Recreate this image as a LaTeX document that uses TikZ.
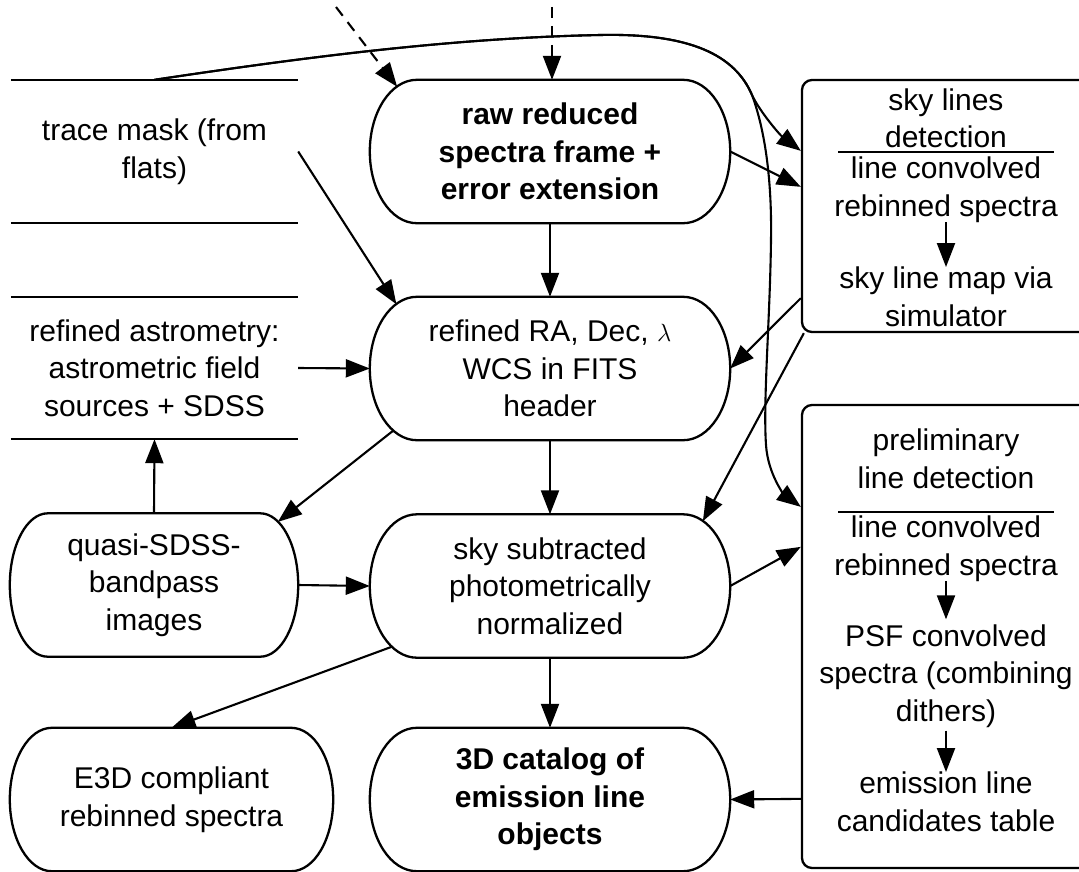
\documentclass[tikz,border=0pt]{standalone}
\usepackage{fontspec}
\setmainfont{Liberation Sans}
\usetikzlibrary{arrows.meta,calc}
\newcommand\stadiumoutline[2]{%
  \draw[outline] let \p1=(#1.north west), \p2=(#1.south east), \n1={(\y1-\y2)/2} in
  (\x1+#2pt,\y1) -- (\x2-#2pt,\y1)
  arc[start angle=90,end angle=-90,x radius=#2pt,y radius=\n1]
  -- (\x1+#2pt,\y2)
  arc[start angle=270,end angle=90,x radius=#2pt,y radius=\n1] -- cycle;}
\begin{document}
\begin{tikzpicture}[x=1pt,y=1pt,
  every node/.style={font=\fontsize{30}{37.5}\selectfont, align=center, inner sep=0pt},
  box/.style={minimum height=143pt},
  store/.style={minimum width=287pt, minimum height=143pt},
  panel/.style={draw, line width=2.3pt, rounded corners=10pt, minimum width=288pt},
  outline/.style={line width=2.3pt},
  flow/.style={line width=2.1pt, -{Triangle[length=24pt,width=18pt]}},
  dflow/.style={flow, dash pattern=on 11pt off 8pt},
  ]
\useasboundingbox (0,0) rectangle (1079,-871);
\clip (0,0) rectangle (1079,-871);

% left column
\node[store] (trace) at (154.5,-151.5) {trace mask (from\\flats)};
\node[store, minimum height=142pt] (astro) at (154.5,-368) {refined astrometry:\\astrometric field\\sources + SDSS};
\node[box, minimum width=288pt] (quasi) at (154,-585) {quasi-SDSS-\\bandpass\\images};
\node[box, minimum width=323pt] (e3d) at (171.5,-799.5) {E3D compliant\\rebinned spectra};

% central column
\node[box, minimum width=360pt] (raw) at (550,-151.5) {\bfseries raw reduced\\\bfseries spectra frame +\\\bfseries error extension};
\node[box, minimum width=360pt] (refined) at (550,-368.5) {refined RA, Dec, $\lambda$\\WCS in FITS\\header};
\node[box, minimum width=360pt] (skysub) at (550,-586) {sky subtracted\\photometrically\\normalized};
\node[box, minimum width=360pt] (cat) at (550,-799.5) {\bfseries 3D catalog of\\\bfseries emission line\\\bfseries objects};

% right panels
\node[panel, minimum height=252pt] (sky) at (946,-206) {};
\node[panel, minimum height=463pt] (prelim) at (946,-636.5) {};
\node (skyA) at (946,-118.5) {sky lines\\detection};
\node (skyB) at (946,-189.5) {line convolved\\rebinned spectra};
\node (skyC) at (946,-297) {sky line map via\\simulator};
\node (pA) at (946,-459) {preliminary\\line detection};
\node (pB) at (946,-548.5) {line convolved\\rebinned spectra};
\node (pC) at (946,-676) {PSF convolved\\spectra (combining\\dithers)};
\node (pD) at (946,-802) {emission line\\candidates table};

% outlines
\draw[outline] (trace.north west) -- (trace.north east);
\draw[outline] (trace.south west) -- (trace.south east);
\draw[outline] (astro.north west) -- (astro.north east);
\draw[outline] (astro.south west) -- (astro.south east);
\stadiumoutline{quasi}{38}
\stadiumoutline{e3d}{42}
\stadiumoutline{raw}{47}
\stadiumoutline{refined}{47}
\stadiumoutline{skysub}{47}
\stadiumoutline{cat}{47}
\draw[outline] ($(sky.north)+(-108,-73)$) -- ($(sky.north)+(108,-73)$);
\draw[outline] ($(prelim.north)+(-108,-108)$) -- ($(prelim.north)+(108,-108)$);

% inner arrows
\draw[flow] (skyB) -- (skyC);
\draw[flow, shorten >=5pt] (pB) -- (pC);
\draw[flow, shorten <=3pt] (pC) -- (pD);

% external inputs
\coordinate (in1) at (336,-7);
\coordinate (in2) at ($(raw.north)+(2,73)$);
\draw[dflow] (in1) -- ($(raw.center)+({-133+47*cos(115)},{71.5*sin(115)})$);
\draw[dflow] (in2) -- ($(raw.north)+(2,0)$);

% connectors
\draw[flow] (raw) -- (refined);
\draw[flow] (refined) -- (skysub);
\draw[flow] (skysub) -- (cat);
\draw[flow] (trace.east) -- ($(refined.center)+({-133+47*cos(116)},{71.5*sin(116)})$);
\draw[flow] (astro.east) -- (refined.west);
\draw[flow] ($(refined.center)+({-133+47*cos(240)},{71.5*sin(240)})$) -- ($(quasi.center)+({106+38*cos(62)},{71.5*sin(62)})$);
\draw[flow] (quasi.north) -- (astro.south);
\draw[flow] (quasi.east) -- (skysub.west);
\draw[flow] ($(skysub.center)+({-133+47*cos(238)},{71.5*sin(238)})$) -- (e3d.north);
\draw[flow] (raw.east) -- ($(sky.north west)+(0,-108)$);
\draw[flow] ($(sky.south west)+(0,35)$) -- (refined.east);
\draw[flow] ($(sky.south west)+(3,0)$) -- ($(skysub.center)+({133+47*cos(65)},{71.5*sin(65)})$);
\draw[flow] (skysub.east) -- ($(prelim.north west)+(0,-143)$);
\draw[flow] ($(prelim.north west)+(0,-395)$) -- (cat.east);

% long curves from the trace mask
\draw[flow] (trace.north) .. controls (300,-58) and (450,-38) .. (600,-35)
  .. controls (690,-33) and (735,-55) .. (752,-95)
  .. controls (760,-112) and (780,-135) .. ($(sky.north west)+(0,-72)$);
\draw[flow] (trace.north) .. controls (300,-58) and (450,-38) .. (600,-35)
  .. controls (690,-33) and (735,-55) .. (752,-95)
  .. controls (765,-130) and (772,-180) .. (771,-240)
  .. controls (770,-320) and (763,-400) .. (766,-445)
  .. controls (768,-475) and (785,-495) .. ($(prelim.north west)+(0,-103)$);
\end{tikzpicture}
\end{document}
